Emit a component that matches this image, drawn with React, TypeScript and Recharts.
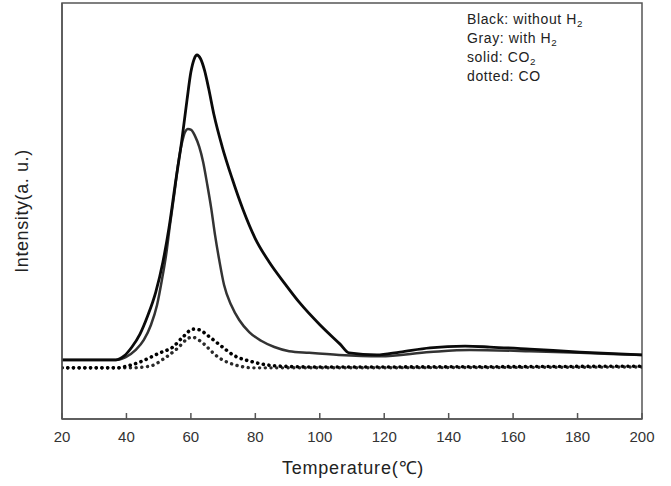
import React from "react";
import { LineChart, Line, XAxis, YAxis, ReferenceArea } from "recharts";

// temperature (°C) / intensity (a.u., 0-100 of plot height)
const co2WithoutH2 = [
  { t: 20, v: 14.2 }, { t: 36.7, v: 14.2 }, { t: 39.2, v: 15.1 }, { t: 41.7, v: 17.3 },
  { t: 44.2, v: 20.4 }, { t: 46.6, v: 24.8 }, { t: 49.1, v: 30.5 }, { t: 51.3, v: 37.7 },
  { t: 53.2, v: 45.9 }, { t: 55.1, v: 56.2 }, { t: 57.2, v: 67.1 }, { t: 58.8, v: 76.7 },
  { t: 60.0, v: 83.4 }, { t: 61.0, v: 86.5 }, { t: 61.9, v: 87.5 }, { t: 63.0, v: 86.6 },
  { t: 64.2, v: 83.9 }, { t: 65.5, v: 79.5 }, { t: 67.2, v: 73.0 }, { t: 69.7, v: 65.5 },
  { t: 72.8, v: 57.8 }, { t: 76.2, v: 50.3 }, { t: 79.9, v: 43.5 }, { t: 84.5, v: 37.5 },
  { t: 89.2, v: 32.5 }, { t: 93.8, v: 27.9 }, { t: 100.1, v: 22.6 }, { t: 106.3, v: 18.0 },
  { t: 109.1, v: 15.9 }, { t: 117.7, v: 15.4 }, { t: 124.9, v: 16.1 }, { t: 134.2, v: 17.1 },
  { t: 145.1, v: 17.5 }, { t: 152.8, v: 17.3 }, { t: 165.2, v: 16.8 }, { t: 180.7, v: 16.1 },
  { t: 200, v: 15.4 },
];

const co2WithH2 = [
  { t: 20, v: 14.2 }, { t: 36.7, v: 14.2 }, { t: 39.8, v: 14.9 }, { t: 42.9, v: 16.6 },
  { t: 45.4, v: 19.0 }, { t: 47.6, v: 22.6 }, { t: 49.5, v: 27.4 }, { t: 51.0, v: 33.4 },
  { t: 52.3, v: 39.4 }, { t: 53.5, v: 46.6 }, { t: 54.8, v: 53.8 }, { t: 56.0, v: 61.1 },
  { t: 57.2, v: 66.3 }, { t: 58.2, v: 69.0 }, { t: 59.1, v: 69.7 }, { t: 60.1, v: 69.5 },
  { t: 61.3, v: 68.0 }, { t: 62.6, v: 65.4 }, { t: 63.8, v: 61.8 }, { t: 65.0, v: 56.7 },
  { t: 66.3, v: 50.7 }, { t: 67.5, v: 44.2 }, { t: 68.8, v: 38.2 }, { t: 70.3, v: 32.2 },
  { t: 72.5, v: 27.4 }, { t: 75.0, v: 23.8 }, { t: 78.1, v: 20.9 }, { t: 81.8, v: 18.8 },
  { t: 85.9, v: 17.3 }, { t: 90.5, v: 16.3 }, { t: 96.7, v: 15.9 }, { t: 106.0, v: 15.4 },
  { t: 118.7, v: 15.1 }, { t: 134.2, v: 16.1 }, { t: 146.6, v: 16.6 }, { t: 165.2, v: 16.3 },
  { t: 180.7, v: 15.9 }, { t: 200, v: 15.4 },
];

const coWithoutH2 = [
  { t: 20, v: 12.3 }, { t: 37.1, v: 12.3 }, { t: 38.9, v: 12.5 }, { t: 44.2, v: 13.7 },
  { t: 50.4, v: 15.9 }, { t: 54.4, v: 17.3 }, { t: 57.5, v: 19.7 }, { t: 60.7, v: 21.6 },
  { t: 62.8, v: 21.4 }, { t: 65.0, v: 20.2 }, { t: 69.0, v: 17.8 }, { t: 73.1, v: 15.4 },
  { t: 79.3, v: 13.7 }, { t: 87.7, v: 12.7 }, { t: 100.1, v: 12.5 }, { t: 200, v: 12.7 },
];

const coWithH2 = [
  { t: 20, v: 12.3 }, { t: 41.1, v: 12.3 }, { t: 47.3, v: 12.7 }, { t: 52.0, v: 14.7 },
  { t: 56.0, v: 17.1 }, { t: 58.8, v: 19.2 }, { t: 60.3, v: 19.7 }, { t: 62.8, v: 18.8 },
  { t: 64.4, v: 17.8 }, { t: 66.6, v: 16.1 }, { t: 68.4, v: 14.9 }, { t: 71.2, v: 13.7 },
  { t: 75.2, v: 12.7 }, { t: 79.3, v: 12.3 }, { t: 200, v: 12.5 },
];

const xTicks = [20, 40, 60, 80, 100, 120, 140, 160, 180, 200];

const font = "Arial, 'Liberation Sans', Helvetica, sans-serif";

const XTick = ({ x, y, payload }: any) => (
  <g>
    <line x1={x} x2={x} y1={y - 6} y2={y} stroke="#555" strokeWidth={1.5} />
    <text x={x} y={y + 23} textAnchor="middle" fontSize={15} fill="#333" fontFamily={font}>
      {payload.value}
    </text>
  </g>
);

const xLabel = () => (
  <text x={353} y={474} textAnchor="middle" fontSize={18} letterSpacing={0.8} fill="#222" fontFamily={font}>
    Temperature(℃)
  </text>
);

const yLabel = () => (
  <text
    x={28}
    y={211}
    transform="rotate(-90 28 211)"
    textAnchor="middle"
    fontSize={18}
    letterSpacing={0.6}
    fill="#222"
    fontFamily={font}
  >
    Intensity(a. u.)
  </text>
);

const sub = (s: string) => (
  <sub style={{ fontSize: "0.7em", lineHeight: 0, verticalAlign: "-0.3em" }}>{s}</sub>
);

const legendLines: React.ReactNode[] = [
  <>Black: without H{sub("2")}</>,
  <>Gray: with H{sub("2")}</>,
  <>solid: CO{sub("2")}</>,
  <>dotted: CO</>,
];

export default function App() {
  return (
    <div style={{ position: "absolute", left: 0, top: 0, width: 671, height: 486, background: "#fff" }}>
      <LineChart width={671} height={486} margin={{ top: 3, right: 29, bottom: 0, left: 0 }}>
        <XAxis
          type="number"
          dataKey="t"
          domain={[20, 200]}
          ticks={xTicks}
          height={67}
          tickSize={0}
          tickMargin={0}
          tick={<XTick />}
          axisLine={{ stroke: "#555", strokeWidth: 1.5 }}
          label={xLabel}
          allowDataOverflow
        />
        <YAxis
          type="number"
          domain={[0, 100]}
          width={62}
          tick={false}
          tickLine={false}
          axisLine={{ stroke: "#555", strokeWidth: 1.5 }}
          label={yLabel}
        />
        <ReferenceArea x1={20} x2={200} y1={0} y2={100} fill="none" stroke="#555" strokeWidth={1.5} />
        <Line data={coWithH2} dataKey="v" type="monotone" stroke="#2a2a2a" strokeWidth={3.4}
          strokeDasharray="0.1 5.6" strokeLinecap="round" dot={false} activeDot={false} isAnimationActive={false} />
        <Line data={coWithoutH2} dataKey="v" type="monotone" stroke="#000" strokeWidth={3.6}
          strokeDasharray="0.1 5.6" strokeLinecap="round" dot={false} activeDot={false} isAnimationActive={false} />
        <Line data={co2WithH2} dataKey="v" type="monotone" stroke="#333" strokeWidth={2.5}
          dot={false} activeDot={false} isAnimationActive={false} />
        <Line data={co2WithoutH2} dataKey="v" type="monotone" stroke="#0a0a0a" strokeWidth={2.8}
          dot={false} activeDot={false} isAnimationActive={false} />
      </LineChart>
      <div
        style={{
          position: "absolute",
          left: 467,
          top: 10,
          fontFamily: font,
          fontSize: 14,
          letterSpacing: 0.6,
          color: "#222",
        }}
      >
        {legendLines.map((l, i) => (
          <div key={i} style={{ height: 19, lineHeight: "19px", whiteSpace: "nowrap" }}>
            {l}
          </div>
        ))}
      </div>
    </div>
  );
}
